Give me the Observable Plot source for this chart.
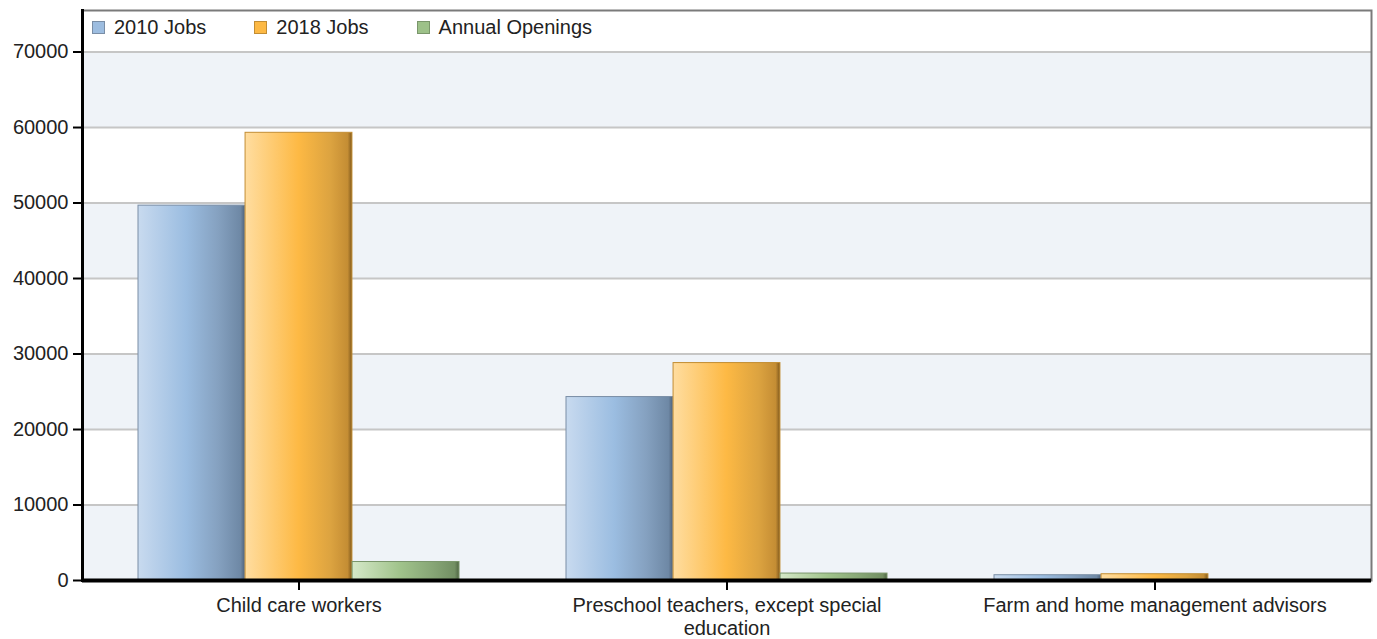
<!DOCTYPE html>
<html><head><meta charset="utf-8">
<script src="https://cdn.jsdelivr.net/npm/d3@7"></script>
<script src="https://cdn.jsdelivr.net/npm/@observablehq/plot@0.6"></script>
<style>
body{margin:0;background:#fff;font-family:"Liberation Sans",Arial,sans-serif;}
#wrap{position:relative;width:1377px;height:639px;}
#legend{position:absolute;left:92px;top:16px;display:flex;align-items:center;font-size:20px;line-height:22px;color:#222;z-index:2;}
.item{display:flex;align-items:center;margin-right:48px;}
.sw{width:13px;height:13px;margin-right:9px;box-sizing:border-box;border:1px solid;}
</style></head><body><div id="wrap"><div id="legend"></div></div>
<script>
const categories = ["Child care workers", "Preschool teachers, except special education", "Farm and home management advisors"];
const seriesNames = ["2010 Jobs", "2018 Jobs", "Annual Openings"];
const jobs2010 = [49650, 24300, 700];
const jobs2018 = [59300, 28800, 830];
const annualOpenings = [2450, 920, 30];
const yTicks = [0, 10000, 20000, 30000, 40000, 50000, 60000, 70000];
const yMax = 75500;

const seriesValues = [jobs2010, jobs2018, annualOpenings];
const swatchColors = ["#9dbde0", "#fdb944", "#9dc189"];
const edgeColors = ["#7a8ea6", "#c28d33", "#7a966b"];
const gradients = [
  {id: "gBlue", stops: [[0, "#c8daef"], [0.45, "#9bbde1"], [0.75, "#85a1c0"], [0.96, "#6e88a5"], [1, "#4e627a"]]},
  {id: "gOrange", stops: [[0, "#ffdda0"], [0.5, "#fdb944"], [0.8, "#dca340"], [0.96, "#c48d34"], [1, "#80591c"]]},
  {id: "gGreen", stops: [[0, "#d5e8c8"], [0.45, "#a0c38b"], [0.75, "#87a676"], [0.96, "#728f63"], [1, "#4f6544"]]}
];

const rows = categories.flatMap((c, i) => seriesNames.map((s, j) => ({category: c, series: s, value: seriesValues[j][i]})));

const W = 1377, H = 639, mL = 82, mR = 6, mT = 10, mB = 59;
const xPad = {paddingInner: 0.25, paddingOuter: 0.13};
const xs = Plot.scale({x: {type: "band", domain: categories, range: [mL, W - mR], ...xPad}});
const sub = xs.bandwidth / seriesNames.length;
const bands = yTicks.filter((d, i) => i % 2 === 0).map(d => ({y1: d, y2: d + 10000}));

const svg = Plot.plot({
  width: W, height: H,
  marginLeft: mL, marginRight: mR, marginTop: mT, marginBottom: mB,
  style: {fontSize: "20px", fontFamily: "'Liberation Sans', Arial, sans-serif", color: "#222", background: "transparent"},
  x: {domain: categories, ...xPad, label: null},
  y: {domain: [0, yMax], label: null},
  marks: [
    Plot.rectY(bands, {y1: "y1", y2: "y2", fill: "#eff3f8"}),
    Plot.ruleY(yTicks.slice(1), {stroke: "#c6c6c6", strokeWidth: 2}),
    ...seriesNames.map((s, j) => Plot.barY(rows.filter(r => r.series === s), {
      x: "category", y: "value",
      fill: `url(#${gradients[j].id})`,
      stroke: edgeColors[j], strokeWidth: 1,
      insetLeft: j * sub, insetRight: (seriesNames.length - 1 - j) * sub
    })),
    Plot.frame({stroke: "#7a7a7a", strokeWidth: 2}),
    Plot.frame({anchor: "left", stroke: "#000", strokeWidth: 3}),
    Plot.ruleY([0], {stroke: "#000", strokeWidth: 4}),
    Plot.axisY(yTicks, {tickSize: 9, tickPadding: 5, tickFormat: "d", stroke: "#000", strokeWidth: 2, fill: "#222"}),
    Plot.axisX({tickSize: 10, tickPadding: 6, lineWidth: 19, lineHeight: 1.12, stroke: "#000", strokeWidth: 2, fill: "#222"})
  ]
});

const defs = d3.select(svg).insert("defs", ":first-child");
gradients.forEach(g => {
  const lg = defs.append("linearGradient").attr("id", g.id).attr("x1", 0).attr("x2", 1).attr("y1", 0).attr("y2", 0);
  g.stops.forEach(([o, c]) => lg.append("stop").attr("offset", o).attr("stop-color", c));
});

document.getElementById("wrap").appendChild(svg);

const legend = d3.select("#legend");
seriesNames.forEach((s, j) => {
  const it = legend.append("div").attr("class", "item");
  it.append("div").attr("class", "sw").style("background", swatchColors[j]).style("border-color", edgeColors[j]);
  it.append("span").text(s);
});
</script></body></html>
